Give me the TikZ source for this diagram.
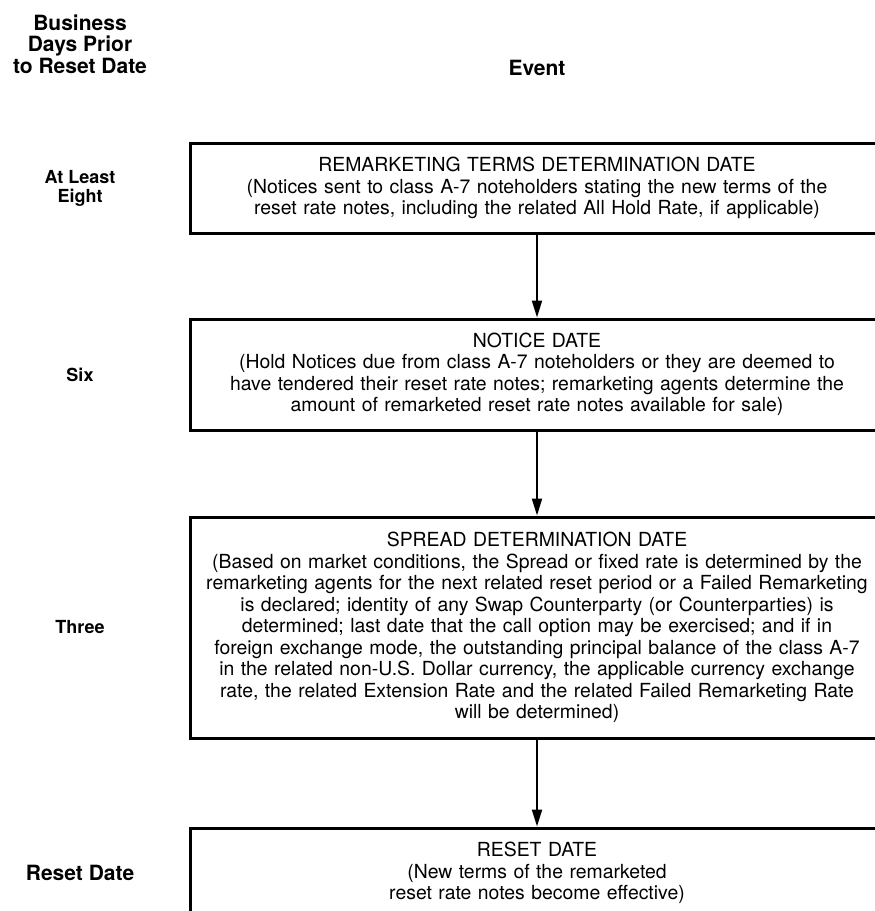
\documentclass[tikz,border=0pt]{standalone}
\usepackage{fontspec}
\setmainfont{TeX Gyre Heros}
\usetikzlibrary{positioning,arrows.meta}

\begin{document}
\begin{tikzpicture}[x=1pt,y=-1pt,
    event/.style={draw,line width=3pt,minimum width=694pt,text width=694pt,
      inner xsep=0pt,align=center,font=\fontsize{19.4}{21.5}\selectfont},
    days/.style={align=center,font=\fontsize{18}{19}\selectfont\bfseries},
    head/.style={align=center,font=\fontsize{21}{21.5}\selectfont\bfseries},
    link/.style={-{Triangle[length=17pt,width=10pt]},line width=2pt}]
    \useasboundingbox (0,0) rectangle (875,911);
    % column heads
    \node[head] (hdays) at (80,44) {Business\\Days Prior\\to Reset Date};
    \node[head] (hevent) at (537,68) {Event};
    % events
    \node[event,minimum height=90pt,anchor=north] (remkt) at (537,141.5)
      {REMARKETING TERMS DETERMINATION DATE\\(Notices sent to class A-7 noteholders stating the new terms of the\\reset rate notes, including the related All Hold Rate, if applicable)};
    \node[event,minimum height=111pt,below=83pt of remkt] (notice)
      {NOTICE DATE\\(Hold Notices due from class A-7 noteholders or they are deemed to\\have tendered their reset rate notes; remarketing agents determine the\\amount of remarketed reset rate notes available for sale)};
    \node[event,minimum height=221pt,below=84pt of notice] (spread)
      {SPREAD DETERMINATION DATE\\(Based on market conditions, the Spread or fixed rate is determined by the\\remarketing agents for the next related reset period or a Failed Remarketing\\is declared; identity of any Swap Counterparty (or Counterparties) is\\determined; last date that the call option may be exercised; and if in\\foreign exchange mode, the outstanding principal balance of the class A-7\\in the related non-U.S. Dollar currency, the applicable currency exchange\\rate, the related Extension Rate and the related Failed Remarketing Rate\\will be determined)};
    \node[event,minimum height=90pt,below=87pt of spread] (reset)
      {RESET DATE\\(New terms of the remarketed\\reset rate notes become effective)};
    % days
    \node[days] (deight) at (hdays |- remkt) {At Least\\Eight};
    \node[days] (dsix) at (hdays |- notice) {Six};
    \node[days] (dthree) at (hdays |- spread) {Three};
    \node[head] (dreset) at (hdays |- reset) {Reset Date};
    % arrows
    \draw[link] (remkt) -- (notice);
    \draw[link] (notice) -- (spread);
    \draw[link] (spread) -- (reset);
\end{tikzpicture}
\end{document}
